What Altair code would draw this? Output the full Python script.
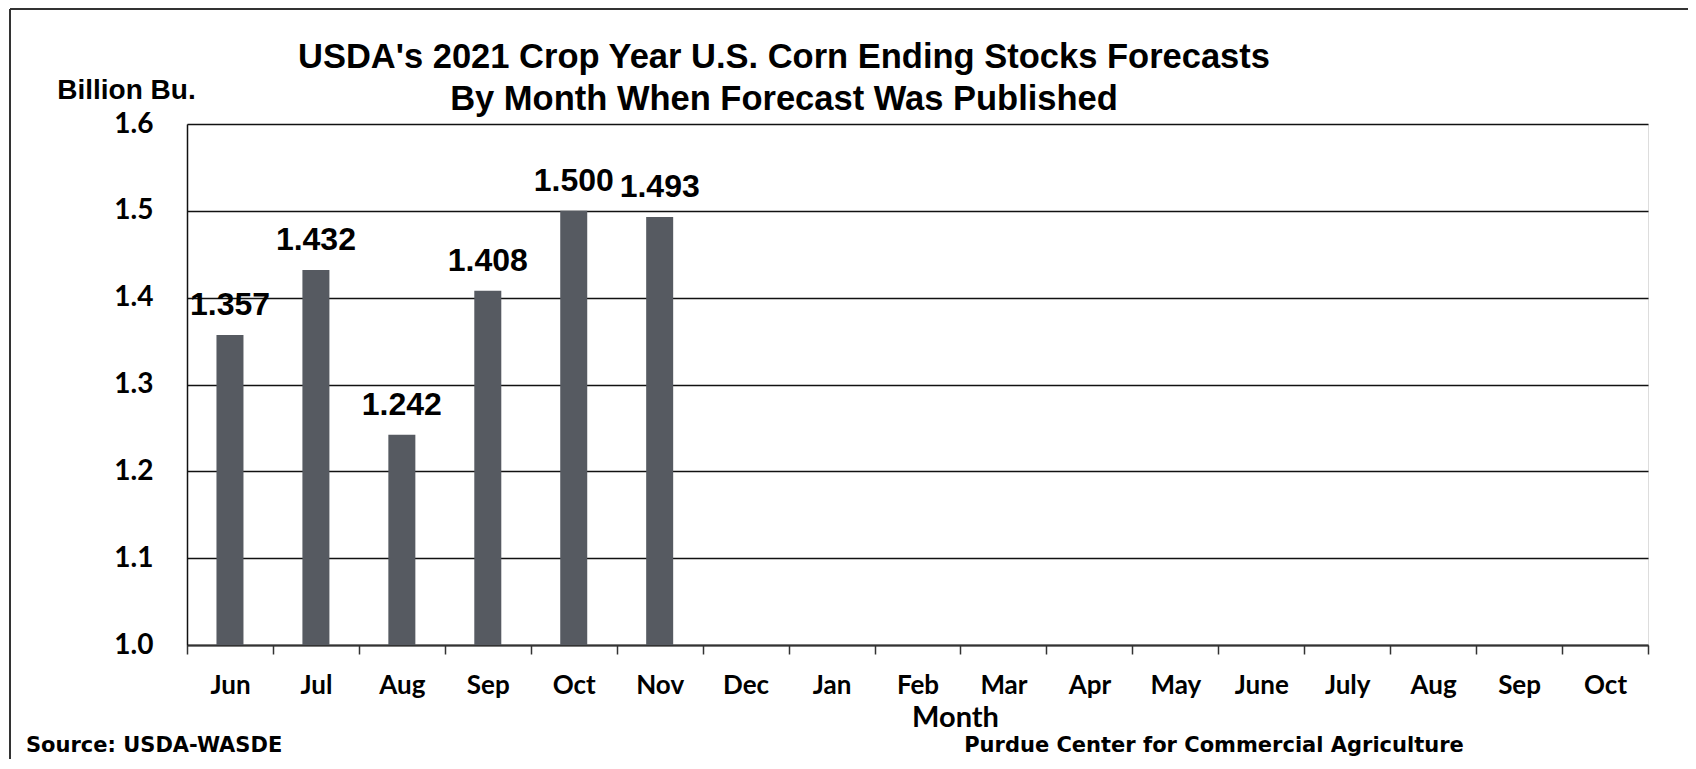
import altair as alt
import pandas as pd

# ---- data ----
month_labels = ["Jun", "Jul", "Aug", "Sep", "Oct", "Nov", "Dec", "Jan", "Feb",
                "Mar", "Apr", "May", "June", "July", "Aug", "Sep", "Oct"]
forecast_values = [1.357, 1.432, 1.242, 1.408, 1.500, 1.493]
y_ticks = [1.0, 1.1, 1.2, 1.3, 1.4, 1.5, 1.6]

title_lines = ["USDA's 2021 Crop Year U.S. Corn Ending Stocks Forecasts",
               "By Month When Forecast Was Published"]
y_title = "Billion Bu."
x_title = "Month"
source_text = "Source: USDA-WASDE"
credit_text = "Purdue Center for Commercial Agriculture"

df = pd.DataFrame({"idx": list(range(len(forecast_values))), "value": forecast_values})
label_array = "[" + ",".join("'" + m + "'" for m in month_labels) + "]"

W, H = 1461, 521
BAR_COLOR = "#565a61"

x_enc = alt.X(
    "idx:O",
    scale=alt.Scale(domain=list(range(len(month_labels))), paddingInner=0, paddingOuter=0),
    axis=alt.Axis(
        title=x_title,
        labelExpr=label_array + "[datum.value]",
        labelAngle=0,
        labelFont="Lato", labelFontSize=26, labelFontWeight="bold", labelColor="#000",
        labelPadding=18,
        tickBand="extent", tickSize=9, tickColor="#333", tickWidth=1.5,
        domainColor="#333", domainWidth=2,
        grid=False,
        titleFont="Lato", titleFontSize=29, titleFontWeight="bold", titleColor="#000",
        titleX=768, titleY=72, titleAnchor="start", titleAlign="center", titleBaseline="middle",
    ),
)
y_enc = alt.Y(
    "value:Q",
    scale=alt.Scale(domain=[1.0, 1.6], nice=False, zero=False),
    axis=alt.Axis(
        title=y_title,
        values=y_ticks, format=".1f",
        labelFont="Lato", labelFontSize=28, labelFontWeight="bold", labelColor="#000",
        labelPadding=34, ticks=False, tickSize=0,
        grid=True, gridColor="#111", gridWidth=1.5,
        domain=True, domainColor="#111", domainWidth=1.5,
        titleFont="Liberation Sans", titleFontSize=28, titleFontWeight="bold", titleColor="#000",
        titleAngle=0, titleX=-61, titleY=-34, titleAlign="center", titleBaseline="middle",
    ),
)

base = alt.Chart(df)
bars = base.mark_bar(size=27, color=BAR_COLOR).encode(x=x_enc, y=y_enc, y2=alt.datum(1.0))
labels = base.mark_text(
    dy=-30, baseline="middle", align="center",
    font="Liberation Sans", fontSize=32, fontWeight="bold", color="#000",
).encode(x=alt.X("idx:O"), y=alt.Y("value:Q"), text=alt.Text("value:Q", format=".3f"))

one = pd.DataFrame({"a": [0]})
title_style = dict(font="Liberation Sans", fontSize=34.5, fontWeight="bold", color="#000",
                   align="center", baseline="middle")
t1 = alt.Chart(one).mark_text(**title_style).encode(
    x=alt.value(597), y=alt.value(-66), text=alt.value(title_lines[0]))
t2 = alt.Chart(one).mark_text(**title_style).encode(
    x=alt.value(597), y=alt.value(-24), text=alt.value(title_lines[1]))
foot_style = dict(font="DejaVu Sans", fontSize=21, fontWeight="bold", color="#000",
                  baseline="middle")
src = alt.Chart(one).mark_text(align="left", **foot_style).encode(
    x=alt.value(-161), y=alt.value(622), text=alt.value(source_text))
cred = alt.Chart(one).mark_text(align="center", **foot_style).encode(
    x=alt.value(1027), y=alt.value(622), text=alt.value(credit_text))

frame_top = alt.Chart(one).mark_rule(color="#333", strokeWidth=2).encode(
    x=alt.value(-177), x2=alt.value(1510), y=alt.value(-115))
frame_left = alt.Chart(one).mark_rule(color="#333", strokeWidth=2).encode(
    x=alt.value(-177), y=alt.value(-115), y2=alt.value(700))

chart = alt.layer(bars, labels, t1, t2, src, cred, frame_top, frame_left).properties(
    width=W, height=H,
    padding={"left": 179, "top": 116, "right": 40, "bottom": 114},
    autosize=alt.AutoSizeParams(type="none"),
).configure_view(stroke="#222", strokeWidth=1.5).configure(background="white")

chart.save("out.html", embed_options={"renderer": "svg", "actions": False})
